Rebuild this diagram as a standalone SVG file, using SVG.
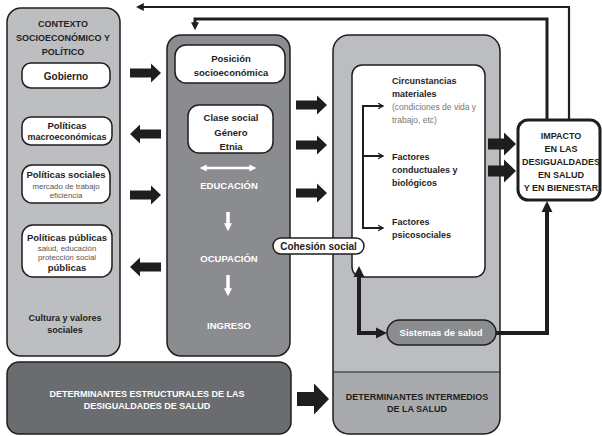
<svg xmlns="http://www.w3.org/2000/svg" xmlns:xlink="http://www.w3.org/1999/xlink" width="602" height="436" viewBox="0 0 602 436">
  <style>
    text { font-family: "Liberation Sans", Arial, sans-serif; text-anchor: middle; }
    .b { font-weight: bold; fill: #1e1e1e; }
    .w { font-weight: bold; fill: #ffffff; }
    .sub { font-size: 7.8px; fill: #555555; }
    .panel { stroke: #1e1e1e; stroke-width: 1.5; }
    .card { fill: #ffffff; stroke: #1e1e1e; stroke-width: 1.5; }
    .thin { fill: none; stroke: #1e1e1e; }
    .thick { fill: none; stroke: #1e1e1e; stroke-width: 4; }
    .blk { fill: #1e1e1e; }
    .lft { text-anchor: start; }
  </style>
  <defs>
    <!-- block arrows, pointing right, origin at tail centre -->
    <path id="arrowA" d="M0,-4.5 H21 V-9.5 L31,0 L21,9.5 V4.5 H0 Z"/>
    <path id="arrowB" d="M0,-5.5 H16 V-11.5 L28,0 L16,11.5 V5.5 H0 Z"/>
    <path id="arrowC" d="M0,-7 H17 V-15.5 L32,0 L17,15.5 V7 H0 Z"/>
    <marker id="headFill" viewBox="0 0 10 10" refX="1" refY="5" markerWidth="11" markerHeight="12" markerUnits="userSpaceOnUse" orient="auto">
      <path d="M0,0 L10,5 L0,10 Z" fill="#1e1e1e"/>
    </marker>
    <marker id="headThin" viewBox="0 0 10 10" refX="1" refY="5" markerWidth="8" markerHeight="8" markerUnits="userSpaceOnUse" orient="auto">
      <path d="M0,0 L10,5 L0,10 Z" fill="#1e1e1e"/>
    </marker>
    <marker id="chev" viewBox="0 0 10 10" refX="9" refY="5" markerWidth="7" markerHeight="8" markerUnits="userSpaceOnUse" orient="auto">
      <path d="M2,1 L9,5 L2,9" fill="none" stroke="#1e1e1e" stroke-width="1.8"/>
    </marker>
    <marker id="headWhite" viewBox="0 0 10 10" refX="1" refY="5" markerWidth="7" markerHeight="8" markerUnits="userSpaceOnUse" orient="auto-start-reverse">
      <path d="M0,0 L10,5 L0,10 Z" fill="#ffffff"/>
    </marker>
    <marker id="headWhiteDown" viewBox="0 0 10 10" refX="1" refY="5" markerWidth="8" markerHeight="11" markerUnits="userSpaceOnUse" orient="auto">
      <path d="M0,0 L10,5 L0,10 Z" fill="#ffffff"/>
    </marker>
  </defs>

  <!-- socio-economic and political context -->
  <g id="contexto">
    <rect class="panel" x="7" y="8" width="113" height="348" rx="14" fill="#bdbec1"/>
    <text class="b" x="63" y="27" font-size="9">CONTEXTO</text>
    <text class="b" x="63" y="41" font-size="9">SOCIOECONÓMICO Y</text>
    <text class="b" x="63" y="55" font-size="9">POLÍTICO</text>
    <text class="b" x="65" y="321" font-size="9">Cultura y valores</text>
    <text class="b" x="65" y="333" font-size="9">sociales</text>
  </g>
  <g id="gobierno">
    <rect class="card" x="22" y="63" width="88" height="25" rx="9"/>
    <text class="b" x="66" y="79.5" font-size="10">Gobierno</text>
  </g>
  <g id="politicas-macro">
    <rect class="card" x="22" y="117" width="90" height="28" rx="9"/>
    <text class="b" x="67" y="128.5" font-size="9.5">Políticas</text>
    <text class="b" x="67" y="139.5" font-size="9">macroeconómicas</text>
  </g>
  <g id="politicas-sociales">
    <rect class="card" x="22" y="165" width="88" height="38" rx="10"/>
    <text class="b" x="66" y="177.5" font-size="9.5">Políticas sociales</text>
    <text class="sub" x="66" y="188.5">mercado de trabajo</text>
    <text class="sub" x="66" y="197.5">eficiencia</text>
  </g>
  <g id="politicas-publicas">
    <rect class="card" x="22" y="225" width="90" height="52" rx="11"/>
    <text class="b" x="67" y="240.5" font-size="9.5">Políticas públicas</text>
    <text class="sub" x="67" y="250.5">salud, educación</text>
    <text class="sub" x="67" y="259.5">protección social</text>
    <text class="b" x="67" y="270.5" font-size="9.5">públicas</text>
  </g>

  <!-- socio-economic position -->
  <g id="posicion">
    <rect class="panel" x="167" y="35" width="123" height="321" rx="14" fill="#8b8c8f"/>
    <rect class="card" x="175" y="45" width="110" height="38" rx="11"/>
    <text class="b" x="231" y="61.5" font-size="9.5">Posición</text>
    <text class="b" x="231" y="75.5" font-size="9.5">socioeconómica</text>
  </g>
  <g id="clase-social">
    <rect class="card" x="188" y="105" width="85" height="48" rx="11"/>
    <text class="b" x="231" y="121" font-size="9.5">Clase social</text>
    <text class="b" x="231" y="136" font-size="9.5">Género</text>
    <text class="b" x="231" y="150" font-size="9.5">Etnia</text>
  </g>
  <g id="gradiente">
    <line x1="206" y1="168" x2="250" y2="168" stroke="#ffffff" stroke-width="2.5" marker-start="url(#headWhite)" marker-end="url(#headWhite)"/>
    <text class="w" x="229" y="189" font-size="9.5">EDUCACIÓN</text>
    <line x1="228" y1="212" x2="228" y2="224" stroke="#ffffff" stroke-width="3.5" marker-end="url(#headWhiteDown)"/>
    <text class="w" x="229" y="262" font-size="9.5">OCUPACIÓN</text>
    <line x1="228" y1="275" x2="228" y2="289" stroke="#ffffff" stroke-width="3.5" marker-end="url(#headWhiteDown)"/>
    <text class="w" x="229" y="329" font-size="9.5">INGRESO</text>
  </g>

  <!-- intermediary determinants -->
  <g id="intermedios">
    <rect x="333" y="35" width="167" height="399" rx="16" fill="#bcbdc0"/>
    <path d="M333,372 H500 V418 Q500,434 484,434 H349 Q333,434 333,418 Z" fill="#a9aaad"/>
    <rect x="333" y="35" width="167" height="399" rx="16" fill="none" class="panel"/>
    <line x1="333" y1="372" x2="500" y2="372" stroke="#1e1e1e" stroke-width="1.2"/>
    <text class="b" x="417" y="400" font-size="9">DETERMINANTES INTERMEDIOS</text>
    <text class="b" x="417" y="412" font-size="9">DE LA SALUD</text>
  </g>
  <g id="factores">
    <rect class="card" x="352" y="65" width="133" height="212" rx="10"/>
    <text class="b lft" x="392" y="84" font-size="9">Circunstancias</text>
    <text class="b lft" x="392" y="97" font-size="9">materiales</text>
    <text class="lft" x="392" y="110" font-size="8.5" fill="#777777">(condiciones de vida y</text>
    <text class="lft" x="392" y="123" font-size="8.5" fill="#777777">trabajo, etc)</text>
    <text class="b lft" x="392" y="160" font-size="9">Factores</text>
    <text class="b lft" x="392" y="173" font-size="9">conductuales y</text>
    <text class="b lft" x="392" y="186" font-size="9">biológicos</text>
    <text class="b lft" x="392" y="225" font-size="9">Factores</text>
    <text class="b lft" x="392" y="238" font-size="9">psicosociales</text>
  </g>
  <g id="sistemas-salud">
    <rect x="387" y="320" width="109" height="25" rx="12.5" fill="#8b8c8f" stroke="#1e1e1e" stroke-width="1.5"/>
    <text class="w" x="441" y="336" font-size="9.5">Sistemas de salud</text>
  </g>

  <!-- outcome -->
  <g id="impacto">
    <rect x="518" y="120" width="82" height="80" rx="10" fill="#ffffff" stroke="#1e1e1e" stroke-width="3"/>
    <text class="b" x="561" y="138.5" font-size="9">IMPACTO</text>
    <text class="b" x="561" y="152" font-size="9">EN LAS</text>
    <text class="b" x="561" y="165" font-size="9">DESIGUALDADES</text>
    <text class="b" x="561" y="178" font-size="9">EN SALUD</text>
    <text class="b" x="561" y="191" font-size="9">Y EN BIENESTAR</text>
  </g>

  <!-- structural determinants band -->
  <g id="estructurales">
    <rect class="panel" x="7" y="362" width="284" height="72" rx="12" fill="#6b6c70"/>
    <text class="w" x="147" y="397" font-size="9">DETERMINANTES ESTRUCTURALES DE LAS</text>
    <text class="w" x="147" y="409" font-size="9">DESIGUALDADES DE SALUD</text>
  </g>

  <g id="connectors">
    <!-- feedback loops along the top -->
    <polyline class="thin" stroke-width="2.2" points="569,120 569,7 143,7" marker-end="url(#headThin)"/>
    <polyline class="thin" stroke-width="3" points="547,120 547,19 195,19 195,23" marker-end="url(#headThin)"/>

    <!-- context <-> position -->
    <use href="#arrowA" class="blk" transform="translate(130,73)"/>
    <use href="#arrowA" class="blk" transform="translate(161,134) scale(-1,1)"/>
    <use href="#arrowA" class="blk" transform="translate(130,195)"/>
    <use href="#arrowA" class="blk" transform="translate(161,267) scale(-1,1)"/>

    <!-- position -> intermediary determinants -->
    <use href="#arrowA" class="blk" transform="translate(296,105)"/>
    <use href="#arrowA" class="blk" transform="translate(296,145)"/>
    <use href="#arrowA" class="blk" transform="translate(296,193)"/>

    <!-- intermediary determinants -> impact -->
    <use href="#arrowB" class="blk" transform="translate(488,144)"/>
    <use href="#arrowB" class="blk" transform="translate(488,171)"/>

    <!-- structural -> intermediary -->
    <use href="#arrowC" class="blk" transform="translate(297,399)"/>

    <!-- bracket over the three factor groups -->
    <line class="thin" stroke-width="2" x1="363" y1="105" x2="363" y2="229"/>
    <line class="thin" stroke-width="2" x1="362" y1="106" x2="383" y2="106" marker-end="url(#chev)"/>
    <line class="thin" stroke-width="2" x1="362" y1="156" x2="383" y2="156" marker-end="url(#chev)"/>
    <line class="thin" stroke-width="2" x1="362" y1="228" x2="383" y2="228" marker-end="url(#chev)"/>

    <!-- health system links -->
    <polyline class="thick" points="378,333 359,333 359,276" marker-end="url(#headFill)"/>
    <line class="thick" x1="359" y1="333" x2="377" y2="333" marker-end="url(#headFill)"/>
    <polyline class="thick" points="496,333 547,333 547,211" marker-end="url(#headFill)"/>
  </g>

  <!-- social cohesion label sits across the panels -->
  <g id="cohesion">
    <rect class="card" x="273" y="238" width="91" height="16" rx="8"/>
    <text class="b" x="318.5" y="250" font-size="10">Cohesión social</text>
  </g>
</svg>
